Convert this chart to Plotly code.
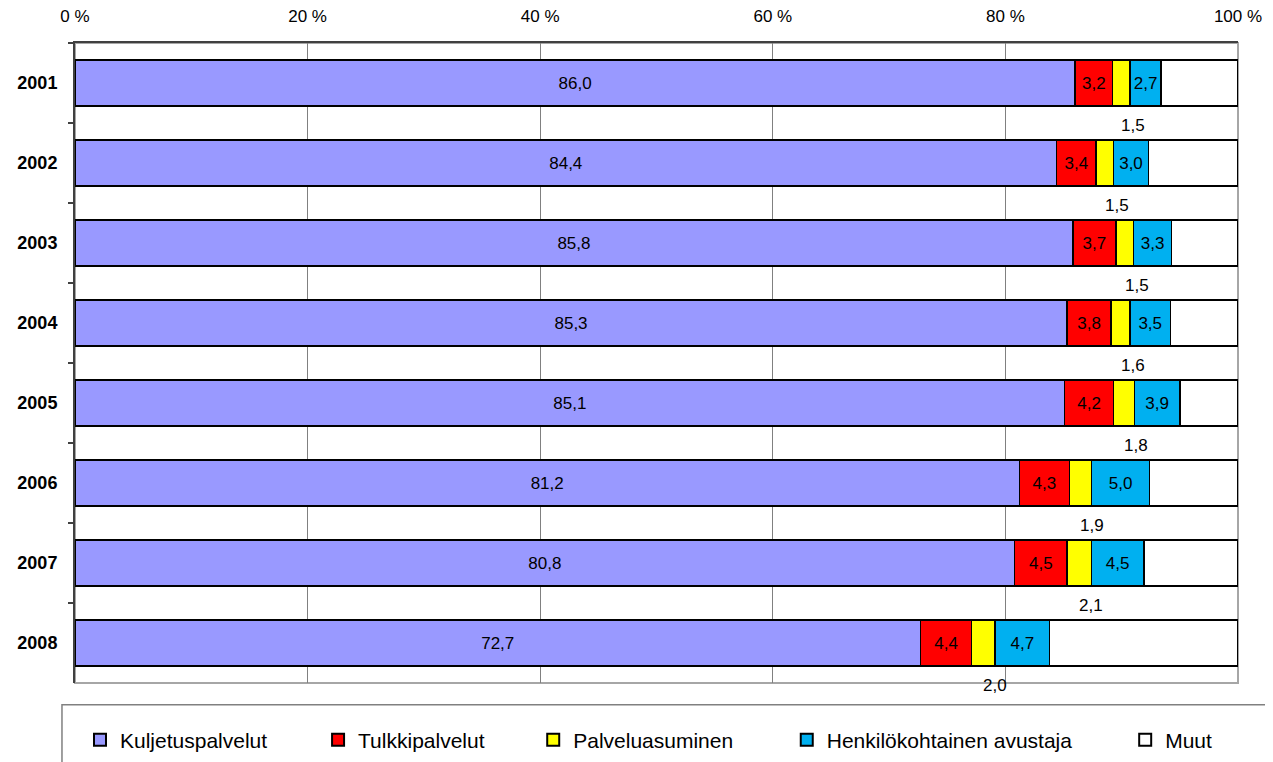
import plotly.graph_objects as go

# values (percent shares per year)
years = ["2001", "2002", "2003", "2004", "2005", "2006", "2007", "2008"]
kuljetus = [86.0, 84.4, 85.8, 85.3, 85.1, 81.2, 80.8, 72.7]
tulkki = [3.2, 3.4, 3.7, 3.8, 4.2, 4.3, 4.5, 4.4]
asuminen = [1.5, 1.5, 1.5, 1.6, 1.8, 1.9, 2.1, 2.0]
avustaja = [2.7, 3.0, 3.3, 3.5, 3.9, 5.0, 4.5, 4.7]
muut = [6.6, 7.7, 5.7, 5.8, 5.0, 7.6, 8.1, 16.2]

x_tickvals = [0, 20, 40, 60, 80, 100]
x_ticktext = ["0 %", "20 %", "40 %", "60 %", "80 %", "100 %"]

FONT = "Liberation Sans, Arial, sans-serif"


def fi(v):
    # Finnish decimal comma
    return f"{v:.1f}".replace(".", ",")


series = [
    ("Kuljetuspalvelut", kuljetus, "#9999FF", True, "legend"),
    ("Tulkkipalvelut", tulkki, "#FF0000", True, "legend2"),
    ("Palveluasuminen", asuminen, "#FFFF00", False, "legend3"),
    ("Henkilökohtainen avustaja", avustaja, "#00B0F0", True, "legend4"),
    ("Muut", muut, "#FFFFFF", False, "legend5"),
]

fig = go.Figure()
for name, vals, color, show_text, leg in series:
    fig.add_trace(
        go.Bar(
            y=years,
            x=vals,
            name=name,
            orientation="h",
            width=0.58,
            marker=dict(color=color, line=dict(color="#000000", width=1.5)),
            text=[fi(v) for v in vals] if show_text else None,
            textposition="inside" if show_text else "none",
            insidetextanchor="middle",
            textfont=dict(family=FONT, size=17, color="#000000"),
            constraintext="none",
            legend=leg,
            showlegend=True,
            hoverinfo="skip",
        )
    )

# small yellow values are labelled just below their bars
# (category index used for y so the numeric-looking years are not read as positions)
annotations = []
for i, y in enumerate(years):
    xc = kuljetus[i] + tulkki[i] + asuminen[i] / 2
    annotations.append(
        dict(
            x=xc,
            y=i,
            xref="x",
            yref="y",
            text=fi(asuminen[i]),
            showarrow=False,
            yshift=-42,
            xshift=12,
            font=dict(family=FONT, size=17, color="#000000"),
        )
    )

shapes = [
    # plot area border
    dict(type="rect", xref="paper", yref="paper", x0=0, x1=1, y0=0, y1=1,
         line=dict(color="#A6A6A6", width=2), layer="below"),
    # legend box
    dict(type="rect", xref="paper", yref="paper", x0=-0.0112, x1=1.06,
         y0=-0.034, y1=-0.14, line=dict(color="#808080", width=1.5)),
]

legend_x = [0.0043, 0.209, 0.394, 0.612, 0.903]
legend_common = dict(
    orientation="h",
    yref="container",
    y=0.0292,
    yanchor="middle",
    xanchor="left",
    bgcolor="rgba(0,0,0,0)",
    font=dict(family=FONT, size=21, color="#000000"),
    itemsizing="constant",
    visible=True,
)

# the page body adds an 8px offset, so the figure is 8px smaller than the window
fig.update_layout(
    barmode="stack",
    width=1265,
    height=754,
    margin=dict(l=67, r=35, t=35, b=79, autoexpand=False),
    plot_bgcolor="#FFFFFF",
    paper_bgcolor="#FFFFFF",
    showlegend=True,
    font=dict(family=FONT, color="#000000"),
    annotations=annotations,
    shapes=shapes,
    legend=dict(x=legend_x[0], **legend_common),
    legend2=dict(x=legend_x[1], **legend_common),
    legend3=dict(x=legend_x[2], **legend_common),
    legend4=dict(x=legend_x[3], **legend_common),
    legend5=dict(x=legend_x[4], **legend_common),
)

fig.update_xaxes(
    side="top",
    range=[0, 100],
    tickvals=x_tickvals,
    ticktext=x_ticktext,
    showgrid=True,
    gridcolor="#808080",
    gridwidth=1,
    showline=True,
    linecolor="#404040",
    linewidth=2,
    ticks="outside",
    ticklen=12,
    tickcolor="rgba(0,0,0,0)",
    tickfont=dict(family=FONT, size=17, color="#000000"),
    zeroline=False,
    automargin=False,
    fixedrange=True,
)

fig.update_yaxes(
    type="category",
    categoryorder="array",
    categoryarray=years,
    range=[len(years) - 0.5, -0.5],
    tickson="boundaries",
    ticks="outside",
    ticklen=5,
    tickcolor="#404040",
    tickwidth=1.5,
    showgrid=False,
    showline=True,
    linecolor="#404040",
    linewidth=2,
    ticklabelstandoff=12,
    tickfont=dict(family=FONT, size=18, color="#000000", weight="bold"),
    automargin=False,
    fixedrange=True,
)

fig.write_html("out.html")
